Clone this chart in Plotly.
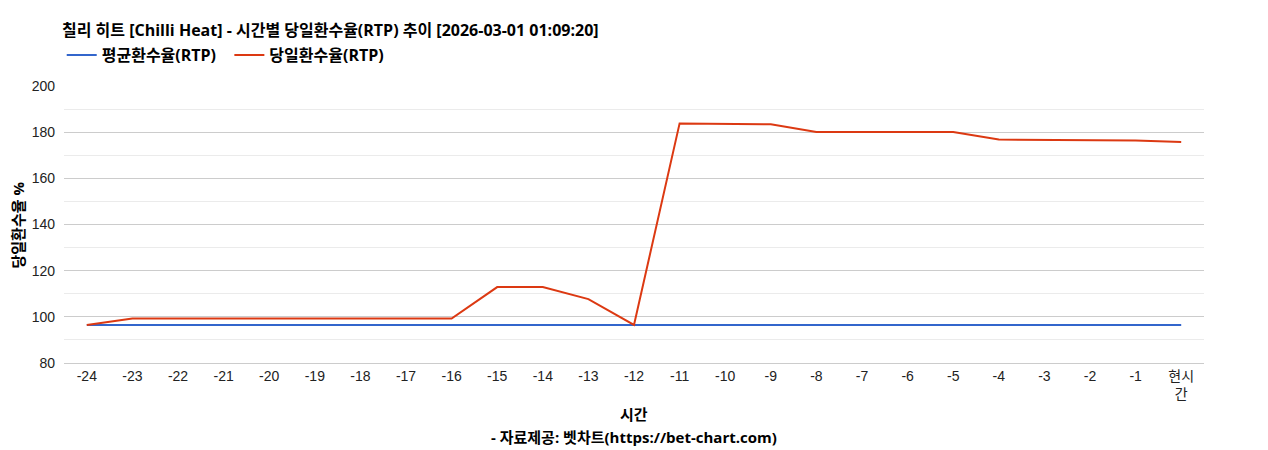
import plotly.graph_objects as go

# hours before now, last one is the current hour
hours = [str(h) for h in range(-24, 0)] + ["현시<br>간"]

avg_rtp = [96.5] * 25
day_rtp = [96.5, 99.3, 99.3, 99.3, 99.3, 99.3, 99.3, 99.3, 99.3,
           112.9, 112.9, 107.7, 96.5,
           183.8, 183.5, 183.4, 180.1, 180.1, 180.1, 180.1,
           176.8, 176.6, 176.4, 176.4, 175.7]

FONT = "Liberation Sans, Arial, Noto Sans CJK KR, sans-serif"
BOLD_FONT = "Open Sans, Noto Sans CJK KR, sans-serif"

# page body adds an 8px margin, so the figure is drawn 8px smaller
W, H = 1260, 442
PLOT_W, PLOT_H = 1140, 277

fig = go.Figure()

fig.add_trace(go.Scatter(
    x=hours, y=avg_rtp, mode="lines", name="<b>평균환수율(RTP)</b>  ",
    line=dict(color="#3366cc", width=2),
))
fig.add_trace(go.Scatter(
    x=hours, y=day_rtp, mode="lines", name="<b>당일환수율(RTP)</b>",
    line=dict(color="#dc3912", width=2),
))

fig.update_layout(
    width=W, height=H,
    margin=dict(l=56, r=64, t=78, b=87, pad=0),
    paper_bgcolor="white", plot_bgcolor="white",
    font=dict(family=FONT, size=14, color="#222222"),
    title=dict(
        text="<b>칠리 히트 [Chilli Heat] - 시간별 당일환수율(RTP) 추이 [2026-03-01 01:09:20]</b>",
        x=(62 - 8) / W, xanchor="left", xref="container",
        y=1 - (30 - 8) / H, yanchor="middle", yref="container",
        font=dict(family=BOLD_FONT, size=16, color="#000000"),
    ),
    legend=dict(
        orientation="h", x=-0.002, xanchor="left", y=1 + 31 / PLOT_H, yanchor="middle",
        font=dict(family=BOLD_FONT, size=16, color="#000000"),
        itemwidth=30, tracegroupgap=0,
    ),
    xaxis=dict(
        type="category", range=[-0.5, 24.5],
        showgrid=False, showline=True, linecolor="#cccccc", linewidth=1,
        ticks="", tickfont=dict(size=14, color="#222222"),
    ),
    yaxis=dict(
        range=[80, 200], dtick=20, tick0=80,
        showgrid=True, gridcolor="#cccccc", gridwidth=1,
        zeroline=False, ticks="", ticklabelstandoff=8,
        tickfont=dict(size=14, color="#222222"),
        minor=dict(dtick=10, showgrid=True, gridcolor="#ebebeb"),
    ),
    showlegend=True,
)

fig.add_annotation(
    text="<b>시간</b>", xref="paper", yref="paper", x=0.5, y=(363 - 414) / PLOT_H,
    showarrow=False, xanchor="center", yanchor="middle",
    font=dict(family=BOLD_FONT, size=15, color="#000000"),
)
fig.add_annotation(
    text="<b>- 자료제공: 벳차트(https://bet-chart.com)</b>", xref="paper", yref="paper",
    x=0.5, y=(363 - 437) / PLOT_H,
    showarrow=False, xanchor="center", yanchor="middle",
    font=dict(family=BOLD_FONT, size=15, color="#000000"),
)
fig.add_annotation(
    text="<b>당일환수율 %</b>", xref="paper", yref="paper",
    x=(17 - 64) / PLOT_W, y=0.5, textangle=-90,
    showarrow=False, xanchor="center", yanchor="middle",
    font=dict(family=BOLD_FONT, size=15, color="#000000"),
)

fig.write_html("out.html")
